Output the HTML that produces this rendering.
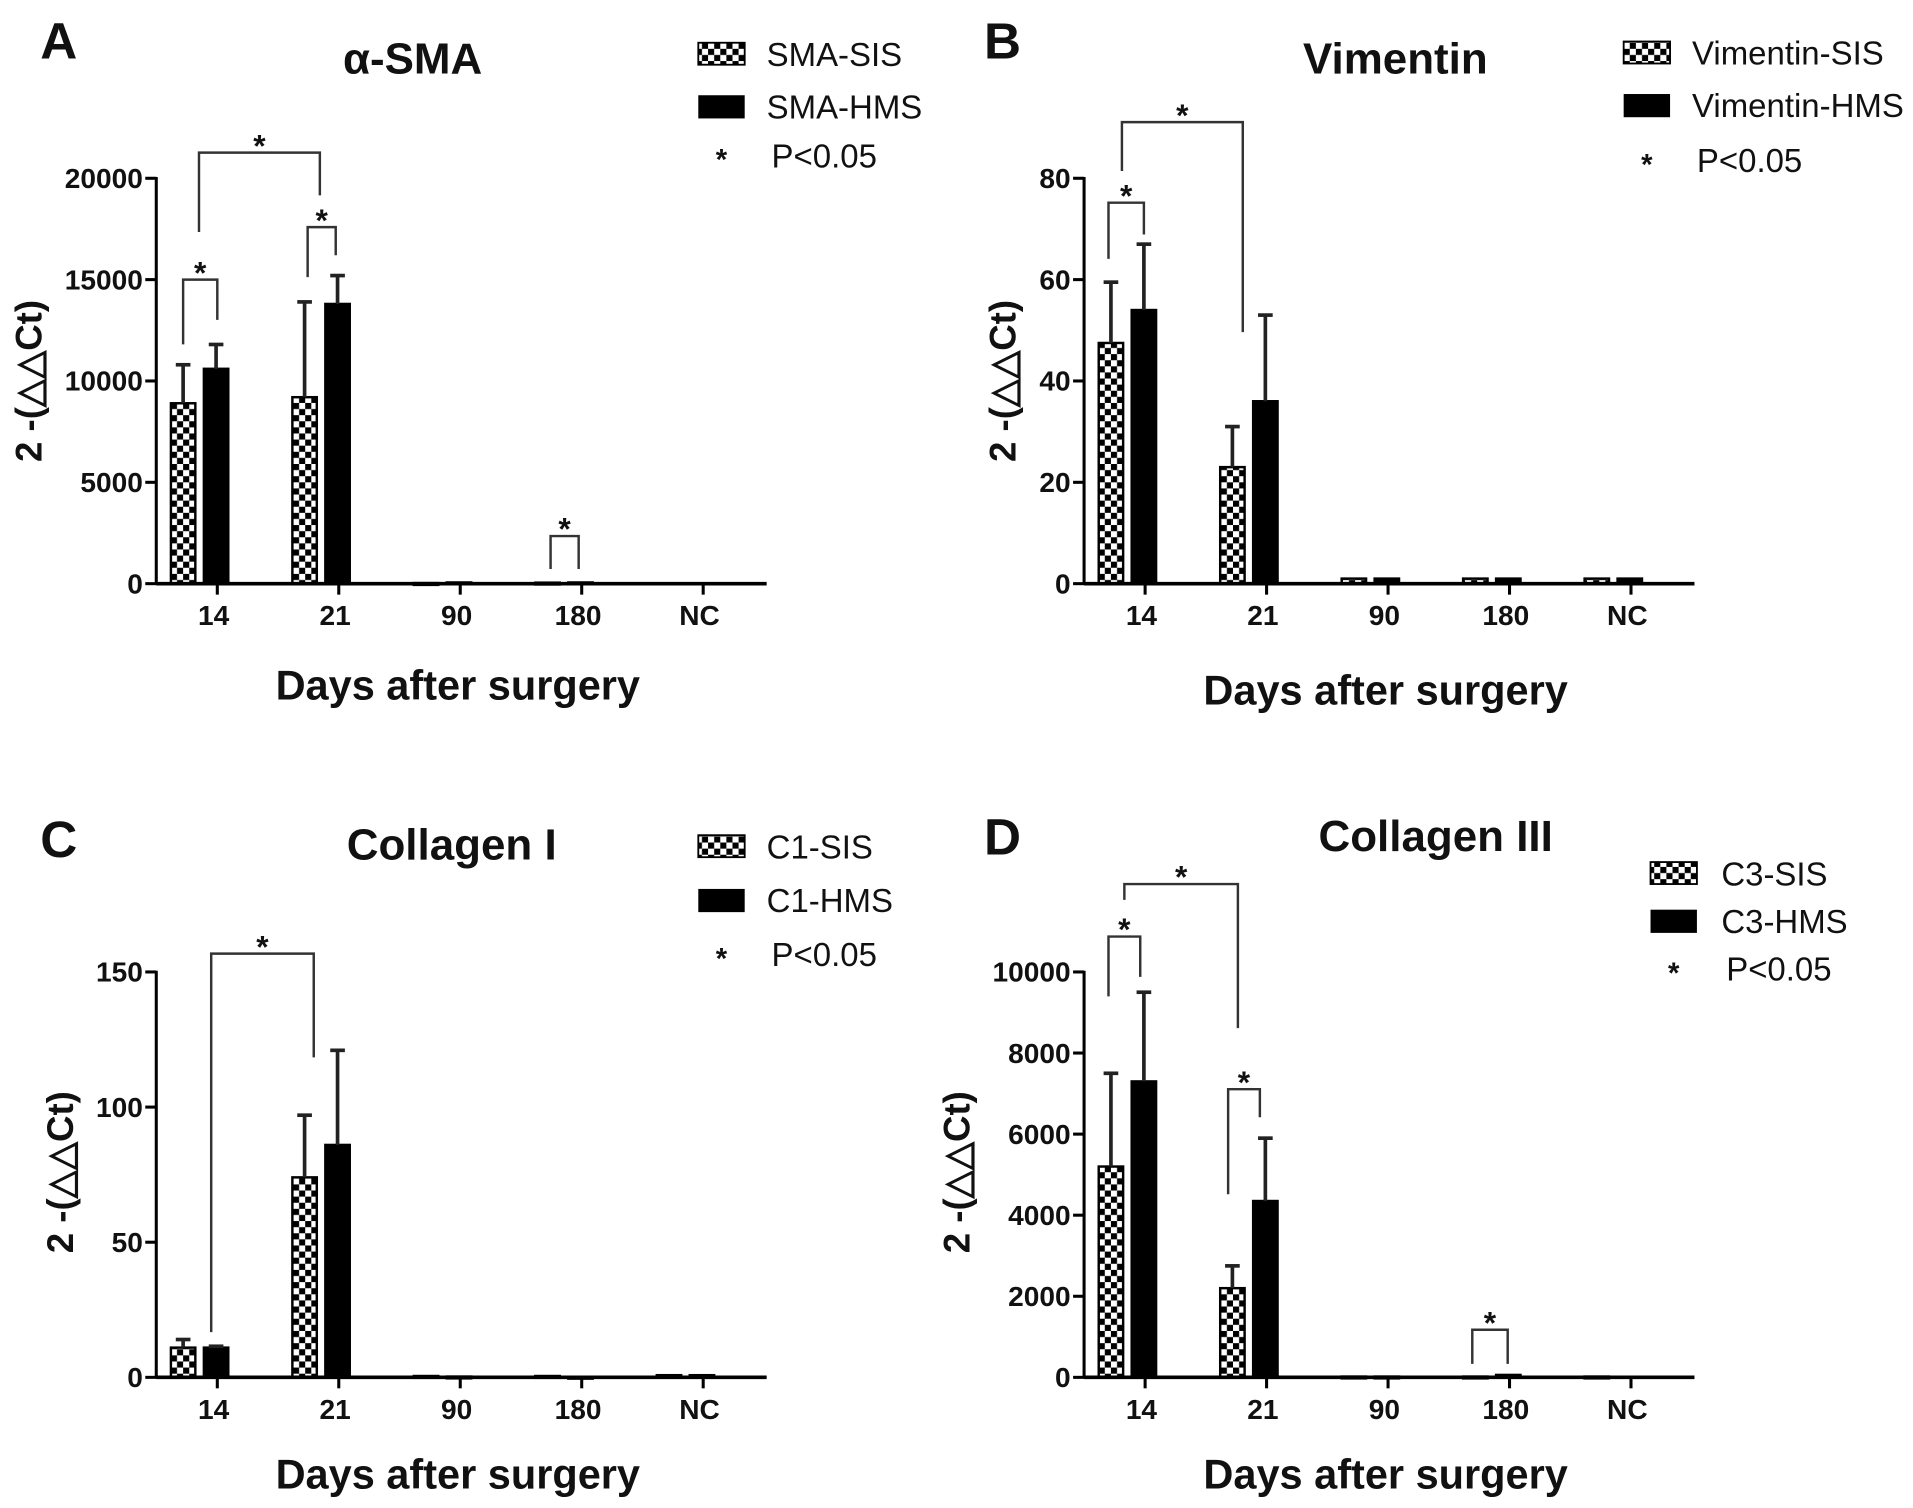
<!DOCTYPE html>
<html><head><meta charset="utf-8"><style>
html,body{margin:0;padding:0;background:#fff;}
svg{display:block;}
text{font-family:"Liberation Sans",Arial,sans-serif;fill:#111;}
</style></head><body>
<svg id="fig" width="1913" height="1508" viewBox="0 0 1567 1235" preserveAspectRatio="none" xmlns="http://www.w3.org/2000/svg">
<defs>
<pattern id="chk" width="10" height="10" patternUnits="userSpaceOnUse">
<rect width="10" height="10" fill="#fff"/><rect width="5" height="5" fill="#000"/><rect x="5" y="5" width="5" height="5" fill="#000"/>
</pattern>
</defs>
</svg>
<script>
const categories = ["14","21","90","180","NC"];
const smaSIS = [8900, 9200, 30, 50, 0];
const smaSISerr = [10800, 13900, 30, 50, 0];
const smaHMS = [10600, 13800, 60, 60, 0];
const smaHMSerr = [11800, 15200, 60, 60, 0];
const smaTicks = [0, 5000, 10000, 15000, 20000];
const vimSIS = [47.5, 23, 1, 1, 1];
const vimSISerr = [59.5, 31, 1, 1, 1];
const vimHMS = [54, 36, 1, 1, 1];
const vimHMSerr = [67, 53, 1, 1, 1];
const vimTicks = [0, 20, 40, 60, 80];
const c1SIS = [11, 74, 0.5, 0.5, 0.8];
const c1SISerr = [14, 97, 0.5, 0.5, 0.8];
const c1HMS = [11, 86, 0.3, 0.2, 0.8];
const c1HMSerr = [11.5, 121, 0.3, 0.2, 0.8];
const c1Ticks = [0, 50, 100, 150];
const c3SIS = [5200, 2200, 20, 20, 20];
const c3SISerr = [7500, 2750, 20, 20, 20];
const c3HMS = [7300, 4350, 20, 60, 0];
const c3HMSerr = [9500, 5900, 20, 60, 0];
const c3Ticks = [0, 2000, 4000, 6000, 8000, 10000];

const svg = document.getElementById('fig');
const NS = 'http://www.w3.org/2000/svg';
function mk(tag, attrs, txt){const e=document.createElementNS(NS,tag);for(const k in attrs)e.setAttribute(k,attrs[k]);if(txt!==undefined)e.textContent=txt;svg.appendChild(e);return e;}

function panel(o){
  const x0=o.x0, x1=o.x0+500, y0=o.y0, yTop=o.y0-332, max=o.ticks[o.ticks.length-1];
  const ys=v=>y0-(v/max)*(y0-yTop);
  const xs=i=>x0+50+i*99.5;
  let e;
  e=mk('text',{x:o.lx,y:o.ly,'font-size':42,'font-weight':'bold'},o.letter);
  
  
  e=mk('text',{x:o.tx,y:o.ty,'font-size':36,'font-weight':'bold','text-anchor':'middle'},o.title);
  
  
  for(let i=0;i<categories.length;i++){
    const c=xs(i);
    [[o.sis,o.sisE,c-38,'url(#chk)','sis'],[o.hms,o.hmsE,c-11,'#000','hms']].forEach(s=>{
      const v=s[0][i], ev=s[1][i], bx=s[2];
      const top=ys(v);
      if(v>0){
        e=mk('rect',{x:bx,y:top,width:20,height:Math.max(y0-top,1.5),fill:s[3],stroke:'#000','stroke-width':2});
        
        
      }
      if(ev>v){
        e=mk('line',{x1:bx+10,x2:bx+10,y1:top,y2:ys(ev),stroke:'#222','stroke-width':3});
        
        
        e=mk('line',{x1:bx+4,x2:bx+16,y1:ys(ev),y2:ys(ev),stroke:'#222','stroke-width':3});
        
        
      }
    });
    e=mk('line',{x1:c,x2:c,y1:y0,y2:y0+9,stroke:'#000','stroke-width':2.5});
    
    
    e=mk('text',{x:c-3,y:y0+34,'font-size':23,'font-weight':'bold','text-anchor':'middle'},categories[i]);
    
    
  }
  e=mk('line',{x1:x0,x2:x0,y1:yTop-1,y2:y0+1,stroke:'#000','stroke-width':2.5});
  
  
  e=mk('line',{x1:x0,x2:x1,y1:y0,y2:y0,stroke:'#000','stroke-width':3});
  
  
  o.ticks.forEach(t=>{
    e=mk('line',{x1:x0-9,x2:x0,y1:ys(t),y2:ys(t),stroke:'#000','stroke-width':2.5});
    
    
    e=mk('text',{x:x0-11,y:ys(t)+8,'font-size':23,'font-weight':'bold','text-anchor':'end'},String(t));
    
    
  });
  e=mk('text',{x:x0+247,y:o.xty,'font-size':34,'font-weight':'bold','text-anchor':'middle'},'Days after surgery');
  
  
  e=mk('text',{x:0,y:0,'font-size':30,'font-weight':'bold','text-anchor':'middle',transform:`translate(${o.ylx},${o.yly}) rotate(-90)`},'2 -(△△Ct)');
  
  
  o.br.forEach(b=>{
    e=mk('polyline',{points:`${b[0]},${b[1]} ${b[0]},${b[2]} ${b[3]},${b[2]} ${b[3]},${b[4]}`,fill:'none',stroke:'#333','stroke-width':2});
    
    
    e=mk('text',{x:(b[0]+b[3])/2,y:b[2]+3,'font-size':26,'font-weight':'bold','text-anchor':'middle'},'*');
    
    
  });
  const L=o.leg;
  e=mk('rect',{x:L.bx,y:L.y1-9,width:38,height:18,fill:'url(#chk)',stroke:'#000','stroke-width':1.5});
  
  
  e=mk('text',{x:L.tx,y:L.y1+10,'font-size':27},o.names[0]);
  
  
  e=mk('rect',{x:L.bx,y:L.y2-9,width:38,height:19,fill:'#000'});
  
  
  e=mk('text',{x:L.tx,y:L.y2+10,'font-size':27},o.names[1]);
  
  
  e=mk('text',{x:L.bx+19,y:L.y3+12,'font-size':24,'font-weight':'bold','text-anchor':'middle'},'*');
  
  
  e=mk('text',{x:L.tx+4,y:L.y3+10,'font-size':27},'P<0.05');
  
  
}

panel({letter:'A',lx:33,ly:48,title:'α-SMA',tx:338,ty:60,x0:128,y0:478,ticks:smaTicks,sis:smaSIS,sisE:smaSISerr,hms:smaHMS,hmsE:smaHMSerr,xty:573,ylx:34,yly:312,
  names:['SMA-SIS','SMA-HMS'],leg:{bx:572,tx:628,y1:44,y2:87,y3:127},
  br:[[150,282,229,178,262],[163,190,125,262,160],[252,227,186,275,209],[451,466,439,474,466]]});
panel({letter:'B',lx:806,ly:48,title:'Vimentin',tx:1143,ty:60,x0:888,y0:478,ticks:vimTicks,sis:vimSIS,sisE:vimSISerr,hms:vimHMS,hmsE:vimHMSerr,xty:577,ylx:832,yly:312,
  names:['Vimentin-SIS','Vimentin-HMS'],leg:{bx:1330,tx:1386,y1:43,y2:86,y3:131},
  br:[[908,212,166,937,192],[919,140,100,1018,272]]});
panel({letter:'C',lx:33,ly:702,title:'Collagen I',tx:370,ty:704,x0:128,y0:1128,ticks:c1Ticks,sis:c1SIS,sisE:c1SISerr,hms:c1HMS,hmsE:c1HMSerr,xty:1219,ylx:60,yly:960,
  names:['C1-SIS','C1-HMS'],leg:{bx:572,tx:628,y1:693,y2:737,y3:781},
  br:[[173,1091,781,257,866]]});
panel({letter:'D',lx:806,ly:700,title:'Collagen III',tx:1176,ty:697,x0:888,y0:1128,ticks:c3Ticks,sis:c3SIS,sisE:c3SISerr,hms:c3HMS,hmsE:c3HMSerr,xty:1219,ylx:794,yly:960,
  names:['C3-SIS','C3-HMS'],leg:{bx:1352,tx:1410,y1:715,y2:754,y3:793},
  br:[[908,816,767,934,800],[921,737,724,1014,842],[1006,978,892,1032,915],[1206,1117,1089,1235,1117]]});
</script>
</body></html>
